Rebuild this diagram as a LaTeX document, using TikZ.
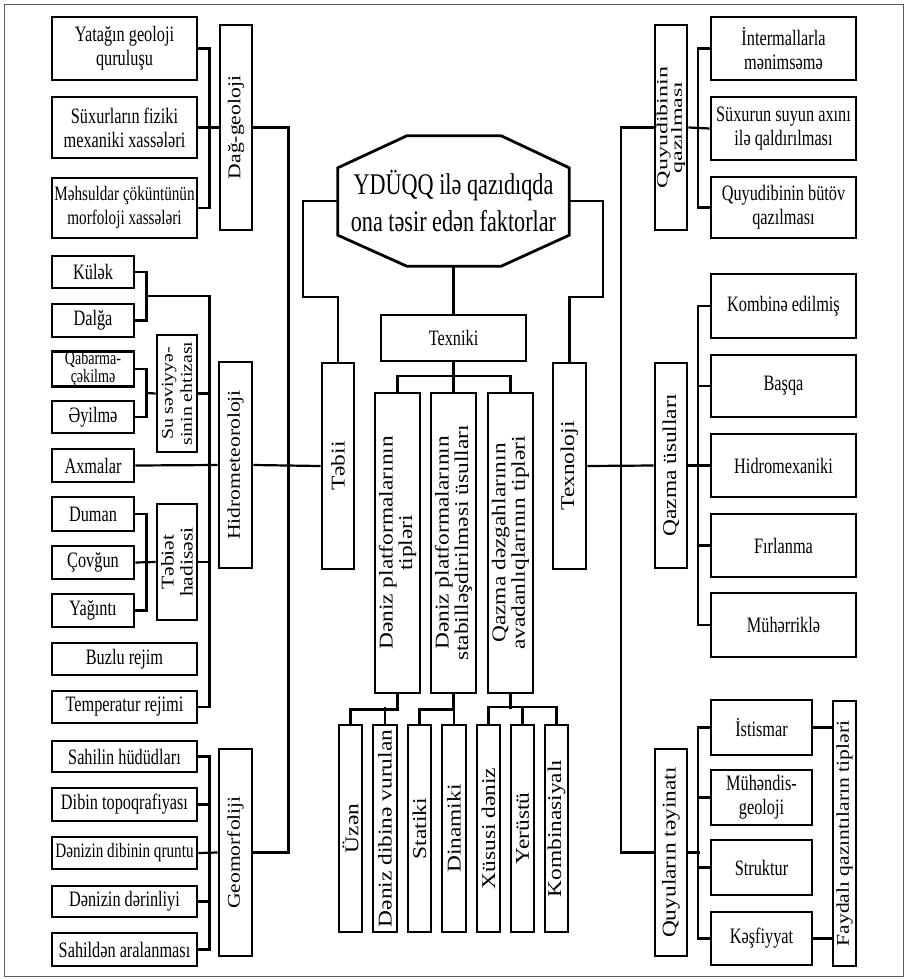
\documentclass[tikz,border=0pt]{standalone}
\usepackage{fontspec}
\setmainfont{Liberation Serif}
\newfontfamily\hfont{Liberation Serif}[FakeStretch=0.74]
\newfontfamily\vfont{Liberation Serif}[FakeStretch=1.2]
\newfontfamily\vwfont{Liberation Serif}[FakeStretch=1.55]
\usetikzlibrary{calc}

\tikzset{
  hbox/.style={draw, line width=2.8pt, inner sep=0pt, align=center,
    font=\hfont\fontsize{22}{24}\selectfont},
  vtext/.style={rotate=90, inner sep=0pt, align=center,
    font=\vfont\fontsize{19.5}{19.5}\selectfont},
  conn/.style={line width=2.2pt},
  octline/.style={line width=2.8pt, line join=miter},
  outerframe/.style={draw=black!65, line width=1pt},
}

% box with horizontal text: options, name, x1, y1, x2, y2, text
\newcommand\hcell[7]{%
  \node[hbox,#1,minimum width={(#5)-(#3)},minimum height={(#6)-(#4)}]
    (#2) at ({((#3)+(#5))/2},{((#4)+(#6))/2}) {#7};}
% box with text turned upward: options for the text, name, x1, y1, x2, y2, text
\newcommand\vcell[7]{%
  \node[hbox,minimum width={(#5)-(#3)},minimum height={(#6)-(#4)}]
    (#2) at ({((#3)+(#5))/2},{((#4)+(#6))/2}) {};
  \node[vtext,#1] (#2-t) at (#2) {#7};}

\begin{document}
\begin{tikzpicture}[x=1pt,y=-1pt]
\useasboundingbox (0,0) rectangle (908,980);
\fill[white] (0,0) rectangle (908,980);
\draw[outerframe] (4,4) rectangle (903,976);

% ---------- centre ----------
\node[inner sep=0pt, align=center, minimum width=231, minimum height=130,
  font=\hfont\fontsize{30}{37}\selectfont] (oct) at (453.5,201)
  {YDÜQQ ilə qazıdıqda\\ona təsir edən faktorlar};
\draw[octline] ([xshift=69pt]oct.north west) -- ([xshift=-68pt]oct.north east)
  -- ([yshift=-32pt]oct.north east) -- ([yshift=31pt]oct.south east)
  -- ([xshift=-68pt]oct.south east) -- ([xshift=69pt]oct.south west)
  -- ([yshift=31pt]oct.south west) -- ([yshift=-32pt]oct.north west) -- cycle;

\hcell{}{tex}{381}{315}{526}{361}{Texniki}
\vcell{}{tab}{322}{363}{354}{569}{Təbii}
\vcell{}{tnl}{553}{363}{586}{569}{Texnoloji}
\vcell{}{tpa}{375}{393}{420}{693}{Dəniz platformalarının\\tipləri}
\vcell{}{tpb}{431}{393}{476}{693}{Dəniz platformalarının\\stabilləşdirilməsi üsulları}
\vcell{}{tpc}{488}{393}{533}{693}{Qazma dəzgahlarının\\avadanlıqlarının tipləri}
\vcell{}{uz}{339}{725}{362}{932}{Üzən}
\vcell{}{ddv}{373}{725}{397}{932}{Dəniz dibinə vurulan}
\vcell{}{sta}{408}{725}{431}{932}{Statiki}
\vcell{}{din}{442}{725}{466}{932}{Dinamiki}
\vcell{}{xus}{477}{725}{500}{932}{Xüsusi dəniz}
\vcell{}{yer}{511}{725}{534}{932}{Yerüstü}
\vcell{}{kom}{545}{725}{568}{932}{Kombinasiyalı}

% ---------- left side ----------
\hcell{}{yat}{52}{17}{197}{80}{Yatağın geoloji\\quruluşu}
\hcell{}{sux}{52}{97}{197}{158}{Süxurların fiziki\\mexaniki xassələri}
\hcell{font=\hfont\fontsize{20.5}{24}\selectfont}{mah}{52}{178}{197}{238}{Məhsuldar çöküntünün\\morfoloji xassələri}
\vcell{font=\vfont\fontsize{18}{18}\selectfont}{dag}{220}{25}{252}{230}{Dağ-geoloji}

\hcell{}{kul}{52}{256}{134}{288}{Külək}
\hcell{}{dal}{52}{304}{134}{337}{Dalğa}
\hcell{font=\hfont\fontsize{19}{13}\selectfont}{qab}{52}{353}{134}{385}{Qabarma-\\çəkilmə}
\hcell{}{ayi}{52}{401}{134}{433}{Əyilmə}
\hcell{}{axm}{52}{449}{134}{482}{Axmalar}
\vcell{font=\vfont\fontsize{16.5}{19}\selectfont}{suv}{157}{335}{197}{452}{Su səviyyə-\\sinin ehtizası}
\vcell{font=\vfont\fontsize{18}{21}\selectfont}{hid}{219}{362}{252}{568}{Hidrometeoroloji}
\hcell{}{dum}{52}{497}{134}{531}{Duman}
\hcell{}{cov}{52}{546}{134}{579}{Çovğun}
\hcell{}{yag}{52}{594}{134}{627}{Yağıntı}
\vcell{font=\vfont\fontsize{18}{19}\selectfont}{teb}{157}{504}{197}{620}{Təbiət\\hadisəsi}
\hcell{}{buz}{52}{643}{197}{675}{Buzlu rejim}
\hcell{}{tem}{52}{691}{197}{723}{Temperatur rejimi}

\hcell{}{sah}{52}{741}{197}{772}{Sahilin hüdüdları}
\hcell{}{dib}{52}{788}{197}{821}{Dibin topoqrafiyası}
\hcell{font=\hfont\fontsize{20.5}{24}\selectfont}{qru}{52}{837}{197}{869}{Dənizin dibinin qruntu}
\hcell{}{der}{52}{886}{197}{917}{Dənizin dərinliyi}
\hcell{}{ara}{52}{933}{197}{966}{Sahildən aralanması}
\vcell{font=\vfont\fontsize{18}{21}\selectfont}{geo}{219}{749}{252}{956}{Geomorfoliji}

% ---------- right side ----------
\vcell{font=\vwfont\fontsize{15.5}{14.5}\selectfont}{quq}{655}{25}{687}{230}{Quyudibinin\\qazılması}
\hcell{}{int}{711}{17}{856}{80}{İntermallarla\\mənimsəmə}
\hcell{}{sxq}{711}{97}{856}{160}{Süxurun suyun axını\\ilə qaldırılması}
\hcell{}{qbq}{711}{177}{856}{238}{Quyudibinin bütöv\\qazılması}

\vcell{}{qus}{655}{363}{687}{568}{Qazma üsulları}
\hcell{}{kom2}{711}{274}{856}{338}{Kombinə edilmiş}
\hcell{}{bas}{711}{355}{856}{417}{Başqa}
\hcell{}{hmx}{711}{434}{856}{497}{Hidromexaniki}
\hcell{}{fir}{711}{514}{856}{577}{Fırlanma}
\hcell{}{muh}{711}{593}{856}{657}{Mühərriklə}

\vcell{}{qte}{655}{749}{687}{956}{Quyuların təyinatı}
\hcell{}{ist}{711}{700}{812}{755}{İstismar}
\hcell{}{mge}{711}{770}{812}{825}{Mühəndis-\\geoloji}
\hcell{}{str}{711}{840}{812}{895}{Struktur}
\hcell{}{kes}{711}{912}{812}{965}{Kəşfiyyat}
\vcell{font=\vfont\fontsize{18}{18}\selectfont}{fay}{833}{701}{856}{966}{Faydalı qazıntıların tipləri}

% ---------- connectors: left ----------
\draw[conn] (yat.east) -- ++(11,0) |- (mah.east);
\draw[conn] (sux.east) -- (dag.west);
\draw[conn] (dag.east) -- ++(35,0) |- (geo.east);

\coordinate (hbus) at ($(kul.east)!0.5!(dal.east)+(74,0)$);
\draw[conn] (kul.east) -- ++(11,0) |- (dal.east);
\draw[conn] ($(kul.east)!0.5!(dal.east)+(11,0)$) -- (hbus) |- (tem.east);
\draw[conn] (qab.east) -- ++(11,0) |- (ayi.east);
\draw[conn] ($(qab.east)!0.5!(ayi.east)+(11,0)$) -- (suv.west);
\draw[conn] (suv.east) -- (suv.east -| hbus);
\draw[conn] (dum.east) -- ++(11,0) |- (yag.east);
\draw[conn] (cov.east) -- (teb.west);
\draw[conn] (teb.east) -- (teb.east -| hbus);
\draw[conn] (axm.east) -- (hid.west);
\draw[conn] (hid.east) -- (tab.west);

\draw[conn] (sah.east) -- ++(11,0) |- (ara.east);
\draw[conn] (dib.east) -- ++(11,0);
\draw[conn] (der.east) -- ++(11,0);
\draw[conn] (qru.east) -- (geo.west);

% ---------- connectors: centre ----------
\draw[conn] (oct.south) -- (tex.north);
\draw[conn] (oct.west) -- ++(-35,0) |- ($(tab.north)+(0,-65)$) -- (tab.north);
\draw[conn] (oct.east) -- ++(34,0) |- ($(tnl.north)+(0,-65)$) -- (tnl.north);
\draw[conn] (tex.south) -- ++(0,16);
\draw[conn] (tpa.north) -- ++(0,-16) -| (tpc.north);
\draw[conn] (tpb.north) -- ++(0,-16);
\draw[conn] (tpa.south) -- ++(0,15) -| (uz.north);
\draw[conn] (ddv.north) -- ++(0,-17);
\draw[conn] (tpb.south) -- ++(0,15) -| (sta.north);
\draw[conn] (din.north) -- ++(0,-17);
\draw[conn] (tpc.south) -- ++(0,15);
\draw[conn] (xus.north) -- ++(0,-17) -| (kom.north);
\draw[conn] (yer.north) -- ++(0,-17);

% ---------- connectors: right ----------
\draw[conn] (quq.west) -- ++(-33,0) |- (qte.west);
\draw[conn] (quq.east) -- (sxq.west);
\draw[conn] (int.west) -- ++(-12,0) |- (qbq.west);
\draw[conn] (tnl.east) -- (qus.west);
\draw[conn] (qus.east) -- (hmx.west);
\draw[conn] (kom2.west) -- ++(-12,0) |- (muh.west);
\draw[conn] (bas.west) -- ++(-12,0);
\draw[conn] (fir.west) -- ++(-12,0);
\draw[conn] (ist.west) -- ++(-12,0) |- (kes.west);
\draw[conn] (mge.west) -- ++(-12,0);
\draw[conn] (str.west) -- ++(-12,0);
\draw[conn] (qte.east) -- ++(12,0);
\draw[conn] (ist.east) -- (ist.east -| fay.west);
\draw[conn] (kes.east) -- (kes.east -| fay.west);
\end{tikzpicture}
\end{document}
